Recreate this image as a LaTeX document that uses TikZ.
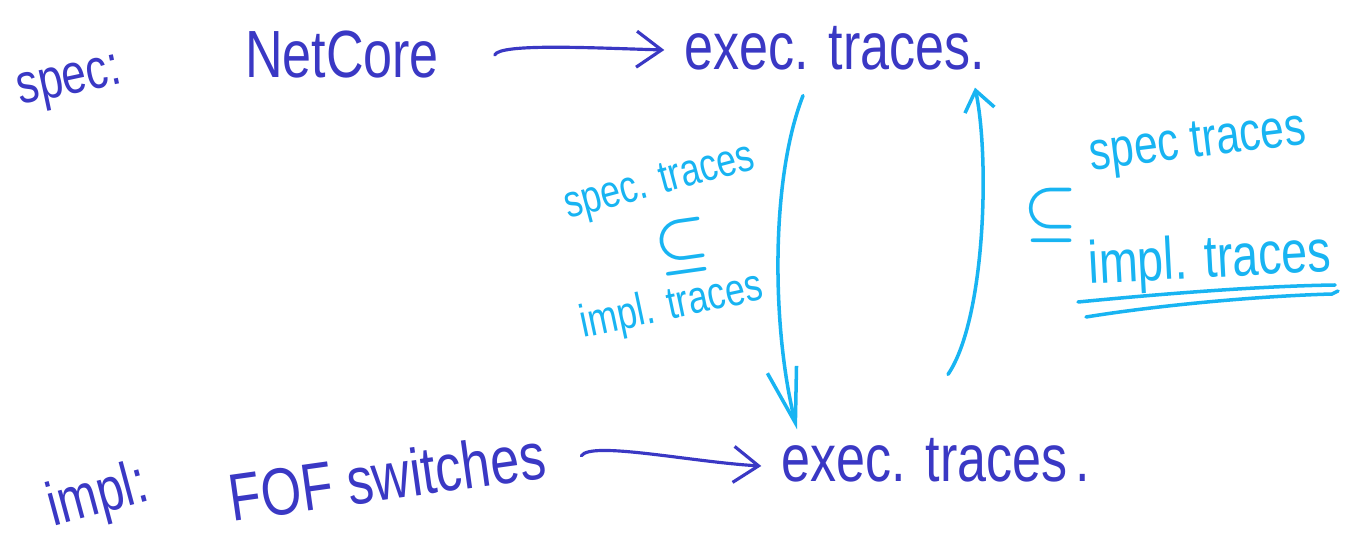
\documentclass[tikz,border=0pt]{standalone}
\usepackage{fontspec}
\setmainfont{Liberation Sans}[FakeStretch=0.78]
\usepackage{xcolor}
\usetikzlibrary{arrows.meta,positioning}
\definecolor{ink}{HTML}{3A38C4}
\definecolor{sky}{HTML}{18B4F2}

\begin{document}
\begin{tikzpicture}[
	word/.style={inner sep=0pt,text=ink,font=\fontsize{19}{22}\selectfont},
	note/.style={inner sep=0pt,text=sky,font=\fontsize{13}{16}\selectfont},
	arrow/.style={draw=ink,line width=0.9pt,line cap=round,-{Straight Barb[length=2.5mm,width=3.6mm]}},
	lift/.style={draw=sky,line width=1pt,line cap=round}
	]
	
	\useasboundingbox (0,0) rectangle (13.49,-5.46);
	
	% top row
	\node[word,font=\fontsize{16}{19}\selectfont,rotate=12] (speclbl) at (0.70,-0.85) {spec:};
	\node[word] (netcore) at (3.42,-0.55) {NetCore};
	\node[word] (spectr) at (8.35,-0.48) {exec. traces.};
	
	% bottom row
	\node[word,font=\fontsize{17.5}{20}\selectfont,rotate=15] (impllbl) at (0.98,-4.98) {impl:};
	\node[word,rotate=8] (fof) at (3.87,-4.76) {FOF switches};
	\node[word] (impltr) at (9.36,-4.60) {exec. traces\hspace{0.12em}.};
	
	\draw[arrow] ([xshift=5.5mm]netcore.east) .. controls +(0.05,0.12) and +(-0.7,0.02) .. ([xshift=-2mm,yshift=-0.2mm]spectr.west);
	\draw[arrow] ([xshift=3.6mm,yshift=-0.2mm]fof.east) .. controls +(0.1,0.15) and +(-0.7,0.04) .. ([xshift=-2mm,yshift=-0.6mm]impltr.west);
	
	% left: spec in impl
	\node[note,rotate=15] (lspec) at (6.60,-1.84) {spec. traces};
	\node[note,font=\boldmath\fontsize{16}{18}\selectfont,rotate=8] (lsub) at (6.82,-2.47) {$\subseteq$};
	\node[note,rotate=12] (limpl) at (6.72,-3.07) {impl. traces};
	
	\draw[lift,-{Straight Barb[length=5.5mm,width=3mm]}] ([xshift=-3.2mm,yshift=-2.5mm]spectr.south) .. controls (7.70,-1.80) and (7.72,-3.30) .. ([xshift=-13.9mm,yshift=0.8mm]impltr.north);
	\draw[lift,-{Straight Barb[length=2mm,width=3mm]}] ([xshift=1.2mm,yshift=6.3mm]impltr.north) .. controls (9.85,-3.20) and (9.90,-1.60) .. ([xshift=14mm,yshift=-1.7mm]spectr.south);
	
	% right: spec over impl
	\node[note,font=\boldmath\fontsize{19}{21}\selectfont] (rsub) at (10.51,-2.15) {$\subseteq$};
	\node[note,font=\fontsize{15.5}{18}\selectfont,rotate=7] (rspec) at (11.98,-1.45) {spec traces};
	\node[note,font=\fontsize{17}{20}\selectfont,rotate=3] (rimpl) at (12.10,-2.62) {impl. traces};
	\draw[lift] (10.78,-3.02) .. controls (11.6,-2.94) and (12.6,-2.86) .. (13.35,-2.85);
	\draw[lift] (10.86,-3.17) .. controls (11.6,-3.05) and (12.6,-2.96) .. (13.32,-2.94) -- (13.38,-2.91);
	
\end{tikzpicture}
\end{document}
